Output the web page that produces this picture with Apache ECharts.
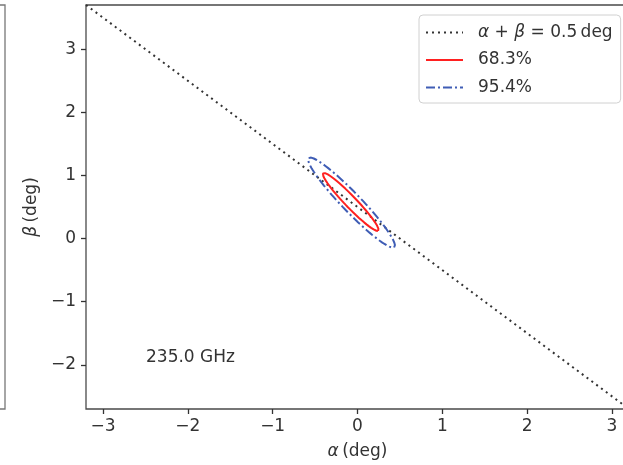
<!DOCTYPE html>
<html>
<head>
<meta charset="utf-8">
<script src="https://cdn.jsdelivr.net/npm/echarts@6/dist/echarts.min.js"></script>
<style>
    html, body { margin: 0; padding: 0; background: #fff; }
    #chart { width: 623px; height: 465px; }
</style>
</head>
<body>
<div id="chart"></div>
<script>
// axis ranges and tick labels
var xRange = [-3.2, 3.2];
var yRange = [-2.7, 3.7];
var xTicks = [-3, -2, -1, 0, 1, 2, 3];
var yTicks = [-2, -1, 0, 1, 2, 3];

// alpha + beta = 0.5 deg line, end points
var lineAlpha = [-3.2, 3.2];
var lineBeta = [3.7, -2.7];

// confidence ellipses
var contourNames = ['68.3%', '95.4%'];
var contourCenterX = [-0.08, -0.07];
var contourCenterY = [0.58, 0.57];
var contourSemiMajor = [0.56, 0.87];
var contourSemiMinor = [0.075, 0.125];
var contourAngle = [-54.8, -54.8]; // degrees, in data units

var freqLabel = '235.0 GHz';

var myChart = echarts.init(document.getElementById('chart'));

function ellipsePoints(k) {
    var pts = [];
    var th = contourAngle[k] * Math.PI / 180;
    for (var i = 0; i <= 180; i++) {
        var t = i / 180 * 2 * Math.PI;
        var u = contourSemiMajor[k] * Math.cos(t);
        var v = contourSemiMinor[k] * Math.sin(t);
        pts.push([
            contourCenterX[k] + u * Math.cos(th) - v * Math.sin(th),
            contourCenterY[k] + u * Math.sin(th) + v * Math.cos(th)
        ]);
    }
    return pts;
}

var lineData = [];
for (var i = 0; i < lineAlpha.length; i++) {
    lineData.push([lineAlpha[i], lineBeta[i]]);
}

var fontFam = 'DejaVu Sans';
var txtColor = '#333';
var minus = function (v) { return String(v).replace('-', '\u2212'); };

var option = {
    animation: false,
    textStyle: { fontFamily: fontFam },
    grid: {
        left: 86, top: 5, right: -6, bottom: 56,
        outerBoundsMode: 'none',
        show: true, borderColor: '#4a4a4a', borderWidth: 1.3,
        backgroundColor: 'transparent'
    },
    legend: {
        orient: 'vertical',
        left: 419, top: 15,
        padding: [9, 8, 7, 6],
        itemWidth: 37, itemHeight: 14, itemGap: 10.5,
        backgroundColor: '#fff',
        borderColor: '#d0d0d0', borderWidth: 1, borderRadius: 4,
        itemStyle: { opacity: 0 },
        data: ['line', contourNames[0], contourNames[1]],
        formatter: function (name) {
            if (name === 'line') return '{i|α} + {i|β} = 0.5\u2009deg';
            return name;
        },
        textStyle: {
            fontSize: 17, color: txtColor, fontFamily: fontFam,
            padding: [0, 0, 0, 10],
            rich: { i: { fontStyle: 'italic', fontSize: 17, color: txtColor, fontFamily: fontFam } }
        }
    },
    xAxis: {
        type: 'value', min: xRange[0], max: xRange[1],
        splitLine: { show: false },
        axisLine: { show: false, onZero: false },
        axisTick: { show: true, length: 5, lineStyle: { color: '#333', width: 1.3 }, customValues: xTicks },
        axisLabel: { customValues: xTicks, fontSize: 17, color: txtColor, margin: 9, formatter: minus },
        name: '{i|α}\u2009(deg)',
        nameLocation: 'middle', nameGap: 34,
        nameTextStyle: { fontSize: 17, color: txtColor, rich: { i: { fontStyle: 'italic', fontSize: 17, color: txtColor } } }
    },
    yAxis: {
        type: 'value', min: yRange[0], max: yRange[1],
        splitLine: { show: false },
        axisLine: { show: false, onZero: false },
        axisTick: { show: true, length: 5, lineStyle: { color: '#333', width: 1.3 }, customValues: yTicks },
        axisLabel: { customValues: yTicks, fontSize: 17, color: txtColor, margin: 10, formatter: minus },
        name: '{i|β}\u2009(deg)',
        nameLocation: 'middle', nameGap: 37,
        nameTextStyle: { fontSize: 17, color: txtColor, rich: { i: { fontStyle: 'italic', fontSize: 17, color: txtColor } } }
    },
    series: [
        {
            name: 'line', type: 'line', data: lineData,
            symbol: 'none', silent: true,
            lineStyle: { color: '#333', width: 2, type: [2, 4] }
        },
        {
            name: contourNames[0], type: 'line', data: ellipsePoints(0),
            symbol: 'none', silent: true,
            lineStyle: { color: '#ff2020', width: 2 }
        },
        {
            name: contourNames[1], type: 'line', data: ellipsePoints(1),
            symbol: 'none', silent: true,
            lineStyle: { color: '#3f5db5', width: 2, type: [9, 3, 2, 3] }
        }
    ],
    graphic: [
        {
            type: 'text', left: 146, top: 349,
            style: { text: freqLabel, fontSize: 17, fill: txtColor, fontFamily: fontFam }
        },
        {
            type: 'polyline',
            shape: { points: [[0, 5], [5, 5], [5, 409], [0, 409]] },
            style: { stroke: '#777', lineWidth: 1.3, fill: null }
        }
    ]
};

myChart.setOption(option);
</script>
</body>
</html>
